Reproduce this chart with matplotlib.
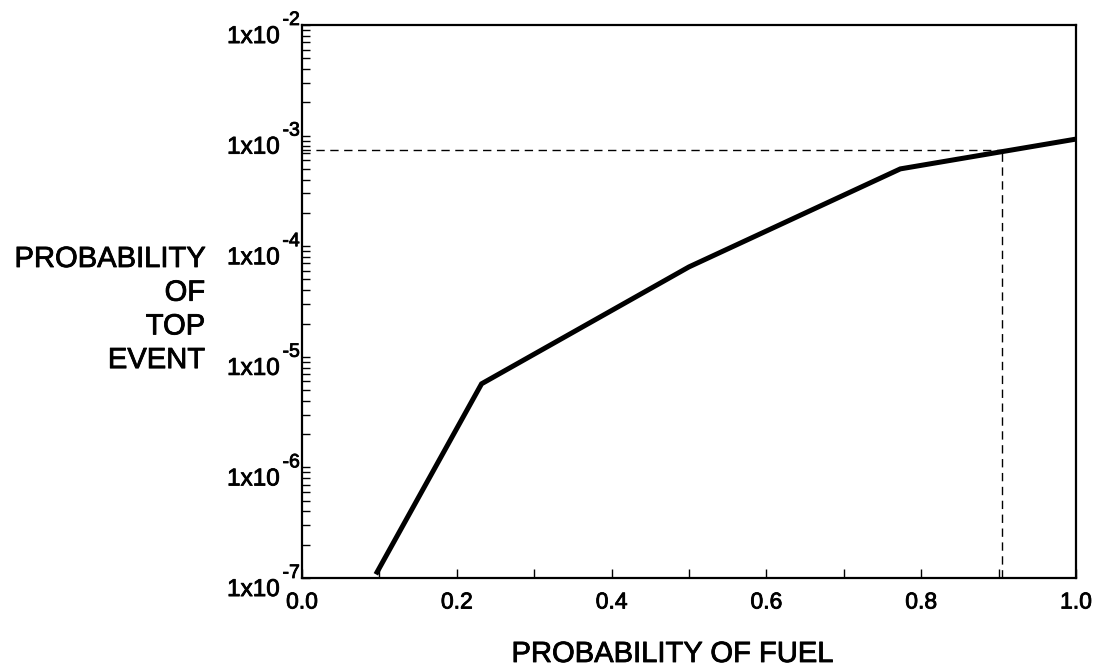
import numpy as np
import matplotlib
matplotlib.use('Agg')
import matplotlib.pyplot as plt
import matplotlib.patheffects as pe
from matplotlib.ticker import LogLocator, MultipleLocator, NullFormatter

plt.rcParams['font.family'] = ['Liberation Sans', 'DejaVu Sans']

# dati
fuel_prob = [0.097, 0.232, 0.50, 0.773, 1.0]
top_prob = [1.13e-7, 5.7e-6, 6.5e-5, 5.0e-4, 9.3e-4]
ref_x = 0.905
ref_y = 7.4e-4
decades = [-7, -6, -5, -4, -3, -2]
x_ticks = [0.0, 0.2, 0.4, 0.6, 0.8, 1.0]
ylabel_lines = ['PROBABILITY', 'OF', 'TOP', 'EVENT']
xlabel = 'PROBABILITY OF FUEL'

# testo un po' piu' scuro, come nella scansione
bold = [pe.withStroke(linewidth=0.6, foreground='black')]

W, H = 1099, 669
fig = plt.figure(figsize=(W / 100, H / 100), dpi=100)
ax = fig.add_axes([302 / W, 1 - 578 / H, (1076 - 302) / W, (578 - 25) / H])

ax.plot(fuel_prob, top_prob, color='black', lw=3.6, solid_joinstyle='miter')
# linee tratteggiate di riferimento
ax.plot([0, ref_x], [ref_y, ref_y], color='black', lw=1.0, ls=(0, (6, 4)))
ax.plot([ref_x, ref_x], [1e-7, ref_y], color='black', lw=1.0, ls=(0, (6, 4)))

ax.set_yscale('log')
ax.set_xlim(0, 1)
ax.set_ylim(1e-7, 1e-2)

ax.yaxis.set_major_locator(LogLocator(base=10, numticks=10))
ax.yaxis.set_minor_locator(LogLocator(base=10, subs=np.arange(2, 10), numticks=10))
ax.yaxis.set_major_formatter(NullFormatter())
ax.yaxis.set_minor_formatter(NullFormatter())
ax.tick_params(axis='y', which='both', direction='in', length=6, width=1.0)

ax.set_xticks(x_ticks)
ax.set_xticklabels(['%.1f' % v for v in x_ticks])
ax.xaxis.set_minor_locator(MultipleLocator(0.1))
ax.tick_params(axis='x', which='both', direction='in', length=6.5, width=1.0,
               labelsize=16.5, pad=9)
for t in ax.get_xticklabels():
    t.set_path_effects(bold)

for s in ax.spines.values():
    s.set_linewidth(1.6)

# etichette 1x10^n disegnate a mano
for e in decades:
    ax.annotate('1x10', xy=(0, 10.0 ** e), xycoords=('axes fraction', 'data'),
                xytext=(-16, -13), textcoords='offset points',
                ha='right', va='baseline', fontsize=17.5, path_effects=bold)
    ax.annotate('%d' % e, xy=(0, 10.0 ** e), xycoords=('axes fraction', 'data'),
                xytext=(-1.5, 0), textcoords='offset points',
                ha='right', va='baseline', fontsize=14, path_effects=bold)

for i, line in enumerate(ylabel_lines):
    b = 267 + i * 33.7
    fig.text(205 / W, 1 - b / H, line, ha='right', va='baseline', fontsize=21,
             path_effects=bold)

fig.text(672 / W, 1 - 662 / H, xlabel, ha='center', va='baseline', fontsize=21,
         path_effects=bold)

fig.savefig('out.png', dpi=100)
